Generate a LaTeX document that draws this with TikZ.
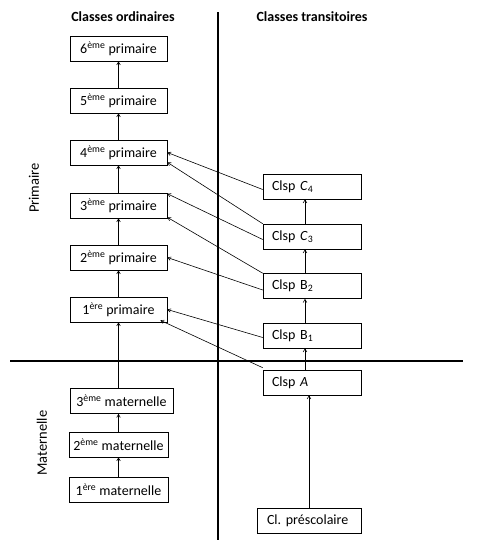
\documentclass[tikz,border=0pt]{standalone}
\usepackage{fontspec}
\setmainfont{Carlito}
\usepackage{tikz}
\usetikzlibrary{positioning,arrows.meta,calc}

\begin{document}
\begin{tikzpicture}[x=1pt,y=-1pt,
    classe/.style={draw, line width=0.6pt, minimum height=25pt, inner sep=1pt, font=\fontsize{14}{16}\selectfont},
    transit/.style={classe, inner xsep=9pt, text width=80pt, align=left},
    fleche/.style={-{Straight Barb[length=3pt,width=3.5pt]}, line width=0.6pt},
    titre/.style={font=\bfseries\fontsize{14}{16}\selectfont},
    niveau/.style={rotate=90, font=\fontsize{14.5}{16}\selectfont}]
    \useasboundingbox (0,0) rectangle (480,552);
    % axes
    \draw[line width=1.5pt] (218,12) -- (218,540);
    \draw[line width=1.5pt] (10,361) -- (463,361);
    % titres
    \node[titre] (tord) at (123,17) {Classes ordinaires};
    \node[titre] (ttra) at (312,17) {Classes transitoires};
    \node[niveau] (lprim) at (34,188) {Primaire};
    \node[niveau] (lmat) at (42,443) {Maternelle};
    % classes ordinaires
    \foreach \n/\y/\s in {6/48.5/ème, 5/100.5/ème, 4/152.5/ème, 3/205.5/ème, 2/257.5/ème, 1/309.5/ère} {
        \node[classe, minimum width=97pt] (p\n) at (118.5,\y) {\n\textsuperscript{\s} primaire};
    }
    \node[classe, minimum width=103pt] (m3) at (121.5,401) {3\textsuperscript{ème} maternelle};
    \node[classe, minimum width=99pt] (m2) at (118.5,444.5) {2\textsuperscript{ème} maternelle};
    \node[classe, minimum width=99pt] (m1) at (118.5,489.5) {1\textsuperscript{ère} maternelle};
    % classes transitoires
    \node[transit] (c4) at (312,186.5) {Clsp \textit{C}\textsubscript{4}};
    \node[transit] (c3) at (312,236.5) {Clsp \textit{C}\textsubscript{3}};
    \node[transit] (b2) at (312,286) {Clsp B\textsubscript{2}};
    \node[transit] (b1) at (312,335.5) {Clsp B\textsubscript{1}};
    \node[transit] (a) at (312,382.5) {Clsp \textit{A}};
    \node[transit, inner xsep=10pt, text width=84pt] (pre) at (309,520.5) {Cl.\ préscolaire};
    % progression ordinaire
    \foreach \i/\j in {5/6, 4/5, 3/4, 2/3, 1/2} {
        \draw[fleche] (p\i.north) -- (p\j.south);
    }
    \draw[fleche] (m3.north -| p1.south) -- (p1.south);
    \draw[fleche] (m2.north) -- (m2.north |- m3.south);
    \draw[fleche] (m1.north) -- (m2.south);
    % progression transitoire
    \draw[fleche] (pre.north) -- (pre.north |- a.south);
    \foreach \i/\j in {a/b1, b1/b2, b2/c3, c3/c4} {
        \draw[fleche] ([xshift=-7pt]\i.north) -- ([xshift=-7pt]\j.south);
    }
    % passerelles
    \draw[fleche] ([yshift=-3pt]c4.west) -- (p4.east);
    \draw[fleche] (c3.north west) -- ([yshift=3pt]p4.south east);
    \draw[fleche] ([yshift=-3pt]c3.west) -- ([yshift=-1pt]p3.north east);
    \draw[fleche] (b2.north west) -- ([yshift=1pt]p3.south east);
    \draw[fleche] ([yshift=-4pt]b2.west) -- (p2.east);
    \draw[fleche] ([yshift=-2pt]b1.west) -- (p1.east);
    \draw[fleche] ([yshift=2pt]a.north west) -- ([xshift=-7pt,yshift=2pt]p1.south east);
\end{tikzpicture}
\end{document}
